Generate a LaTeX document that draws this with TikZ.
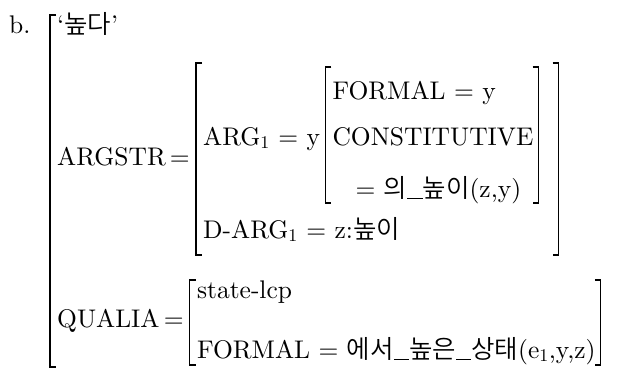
\documentclass[tikz,border=0pt]{standalone}
\usepackage{fontspec}
\setmainfont{lmroman10-regular.otf}
\IfFontExistsTF{Noto Sans CJK KR DemiLight}
  {\newfontfamily\kr{Noto Sans CJK KR DemiLight}}
  {\IfFontExistsTF{Noto Sans CJK KR Light}
    {\newfontfamily\kr{Noto Sans CJK KR Light}}
    {\newfontfamily\kr{Noto Sans CJK KR}}}
\usetikzlibrary{positioning}

% left / right bracket: x taken from a coordinate, top y, bottom y
\newcommand{\lbrk}[3]{\draw[brak] (#1 |- 0,#2) ++(6,0) -- ++(-6,0) -- (#1 |- 0,#3) -- ++(6,0);}
\newcommand{\rbrk}[3]{\draw[brak] (#1 |- 0,#2) ++(-6,0) -- ++(6,0) -- (#1 |- 0,#3) -- ++(-6,0);}
\newcommand{\us}{\rule[-0.08em]{0.6em}{0.045em}}

\begin{document}
\begin{tikzpicture}[
    x=1pt, y=-1pt,
    lbl/.style={anchor=base west, inner sep=0pt, font=\fontsize{25.5}{29}\selectfont},
    brak/.style={line width=1.2pt},
]
\useasboundingbox (0,0) rectangle (636,370);

% ================= outer =================
\node[lbl] (lab) at (9,33) {b.};
\coordinate (lo) at (50,0);
\lbrk{lo}{15}{367}
\node[lbl] (lex) at (57,33) {`{\kr 높다}'};

% ================= ARGSTR =================
\node[lbl] (argstr) at (57,165) {ARGSTR\,=};
\coordinate (la) at ([xshift=6pt]argstr.east);
\lbrk{la}{63}{255}
\node[lbl, xshift=7pt] (arg1) at (la |- 0,145) {ARG\textsubscript{1} = y};
\coordinate (lb) at ([xshift=5pt]arg1.east);
\lbrk{lb}{67}{203}
\node[lbl, xshift=7pt] (formal1) at (lb |- 0,99) {FORMAL = y};
\node[lbl, xshift=7pt] (const) at (lb |- 0,145) {CONSTITUTIVE};
\node[lbl, xshift=30pt] (constval) at (lb |- 0,197) {= {\kr 의}\us{\kr 높이}(z,y)};
\coordinate (rb) at ([xshift=5pt]const.east);
\rbrk{rb}{67}{203}
\coordinate (ra) at ([xshift=20pt]rb);
\rbrk{ra}{63}{255}
\node[lbl, xshift=7pt] (darg1) at (la |- 0,238) {D-ARG\textsubscript{1} = z:{\kr 높이}};

% ================= QUALIA =================
\node[lbl] (qualia) at (57,327) {QUALIA\,=};
\coordinate (lq) at ([xshift=6pt]qualia.east);
\lbrk{lq}{280}{365}
\node[lbl, xshift=7pt] (lcp) at (lq |- 0,298) {state-lcp};
\node[lbl, xshift=7pt] (formal2) at (lq |- 0,358) {FORMAL = {\kr 에서}\us{\kr 높은}\us{\kr 상태}(e\textsubscript{1},y,z)};
\coordinate (rq) at ([xshift=5pt]formal2.east);
\rbrk{rq}{280}{365}

\end{tikzpicture}
\end{document}
